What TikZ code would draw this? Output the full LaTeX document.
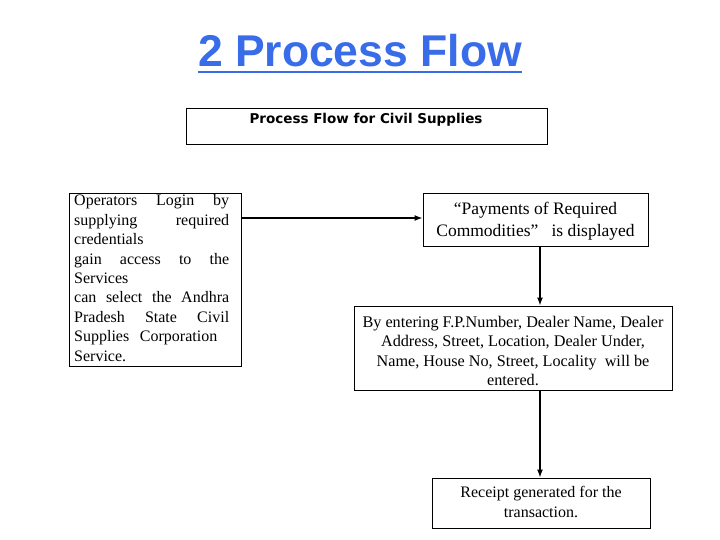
\documentclass[tikz,border=0pt]{standalone}
\usepackage{fontspec}
\setmainfont{Liberation Serif}
\newfontfamily\arialfont{Liberation Sans}
\newfontfamily\verdfont{DejaVu Sans}
\usetikzlibrary{arrows.meta}
\definecolor{titleblue}{RGB}{56,108,232}
\newcommand{\jline}[1]{\leavevmode\hbox to 155pt{#1}}
\begin{document}
\begin{tikzpicture}[x=1pt,y=-1pt,
  box/.style={draw=black, line width=0.9pt, inner sep=0pt, align=center},
  arr/.style={line width=1.4pt, -{Latex[length=8pt,width=6pt]}},
  txt/.style={align=center, inner sep=0pt}]
\useasboundingbox (0,0) rectangle (720,540);
% title
\node[font=\arialfont\bfseries\fontsize{44.5}{50}\selectfont, text=titleblue, anchor=base, inner sep=0pt] (title) at (360,67) {2 Process Flow};
\draw[titleblue, line width=2.6pt] (title.west |- 0,72) -- (title.east |- 0,72);
% header box
\node[box, minimum width=361, minimum height=36] (hdr) at (366.5,126) {};
\node[font=\verdfont\bfseries\fontsize{13.5}{15}\selectfont, inner sep=0pt] (hdrt) at (366,120) {Process Flow for Civil Supplies};
% left box
\node[box, minimum width=172, minimum height=173] (login) at (155,279.5) {};
\node[txt, text width=155, align=left, anchor=north west, font=\fontsize{16}{19.4}\selectfont] (logint) at (74,194.5) {%
\jline{Operators\hfill Login\hfill by}\\
\jline{supplying\hfill required}\\
credentials\\
\jline{gain\hfill access\hfill to\hfill the}\\
Services\\
\jline{can\hfill select\hfill the\hfill Andhra}\\
\jline{Pradesh\hfill State\hfill Civil}\\
Supplies\ \ Corporation\\
Service.};
% payments box
\node[box, minimum width=225, minimum height=53] (pay) at (535.5,219.5) {};
\node[txt, font=\fontsize{17.5}{22}\selectfont] (payt) at (535.5,221) {\textquotedblleft Payments of Required\\Commodities\textquotedblright\ \ \ is displayed};
% entering box
\node[box, minimum width=318, minimum height=84] (enter) at (513,348) {};
\node[txt, font=\fontsize{16.2}{19.4}\selectfont] (entert) at (513,351) {By entering F.P.Number, Dealer Name, Dealer\\Address, Street, Location, Dealer Under,\\Name, House No, Street, Locality\ \ will be\\entered.};
% receipt box
\node[box, minimum width=218, minimum height=50] (rec) at (541,503) {};
\node[txt, font=\fontsize{16}{20}\selectfont] (rect) at (541,502) {Receipt generated for the\\transaction.};
% arrows
\draw[arr] (login.east |- 0,218) -- (pay.west |- 0,218);
\draw[arr] (pay.south -| 540,0) -- (enter.north -| 540,0);
\draw[arr] (enter.south -| 540,0) -- (rec.north -| 540,0);
\end{tikzpicture}
\end{document}
